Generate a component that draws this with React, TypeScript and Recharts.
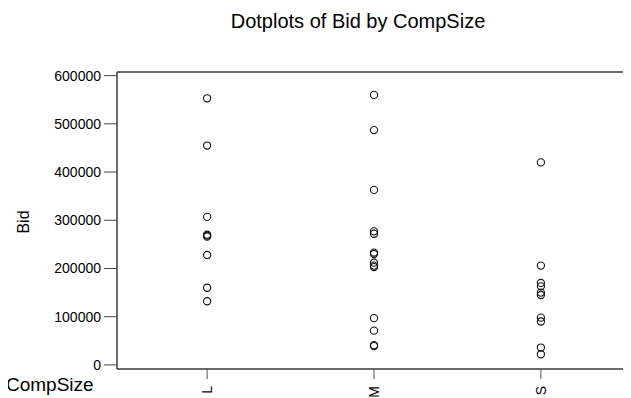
import {ScatterChart, Scatter, XAxis, YAxis, ReferenceLine} from "recharts";

const categories = ["L", "M", "S"];
const bidL = [553000, 455000, 307000, 270000, 268000, 266000, 228000, 160000, 132000];
const bidM = [560000, 487000, 363000, 277000, 272000, 233000, 230000, 212000, 206000, 203000, 97000, 71000, 41000, 39000];
const bidS = [420000, 206000, 170000, 163000, 150000, 145000, 98000, 90000, 36000, 22000];
const yTicks = [0, 100000, 200000, 300000, 400000, 500000, 600000];

const yTop = 607500;
const toPoints = (vals: number[], i: number) => vals.map(v => ({x: i, bid: v}));

const axisColor = "#3a3a3a";
const font = "'Liberation Sans', Arial, sans-serif";

interface DotProps {
    cx?: number;
    cy?: number;
}

const OpenDot = ({cx, cy}: DotProps) => {
    if (cx === undefined || cy === undefined) return null;
    return <circle cx={cx} cy={cy} r={3.6} fill="none" stroke="#111" strokeWidth={1.1}/>;
};

interface TickProps {
    x?: number;
    y?: number;
    payload?: { value: number };
}

// rotated category labels under the x axis
const CatTick = ({x, y, payload}: TickProps) => {
    if (x === undefined || y === undefined || !payload) return null;
    return (
        <text
            x={x}
            y={y}
            transform={`rotate(-90, ${x}, ${y})`}
            textAnchor="end"
            dy="0.36em"
            fontSize={14}
            fontFamily={font}
            fill="#000"
        >
            {categories[payload.value]}
        </text>
    );
};

const App = () => {
    return (
        <div style={{position: "relative", width: 623, height: 390, fontFamily: font}}>
            <div style={{
                position: "absolute", left: 0, width: 700, top: 1, textAlign: "center",
                fontSize: 20, color: "#000", lineHeight: "24px"
            }}>
                Dotplots of Bid by CompSize
            </div>
            <div style={{
                position: "absolute", left: 16, top: 214, fontSize: 16, color: "#000",
                transform: "translate(-50%, -50%) rotate(-90deg)", whiteSpace: "nowrap"
            }}>
                Bid
            </div>
            <div style={{position: "absolute", left: -2, top: 367, fontSize: 19, color: "#000", lineHeight: "20px"}}>
                CompSize
            </div>
            <ScatterChart width={623} height={390} margin={{top: 64, right: 0, bottom: 0, left: 0}}>
                <XAxis
                    type="number"
                    dataKey="x"
                    domain={[-0.54, 2.54]}
                    ticks={[0, 1, 2]}
                    allowDataOverflow
                    height={29}
                    tickSize={10}
                    tickMargin={7}
                    tick={<CatTick/>}
                    tickLine={{stroke: "#555"}}
                    axisLine={{stroke: axisColor, strokeWidth: 1.5}}
                />
                <YAxis
                    type="number"
                    dataKey="bid"
                    domain={[-8500, yTop]}
                    ticks={yTicks}
                    allowDataOverflow
                    width={109}
                    tickSize={13}
                    tickMargin={3}
                    tick={{fontSize: 14, fill: "#000", fontFamily: font}}
                    tickLine={{stroke: "#444"}}
                    axisLine={{stroke: axisColor, strokeWidth: 1.5}}
                />
                <ReferenceLine y={yTop} stroke={axisColor} strokeWidth={1.5} ifOverflow="visible"/>
                {[bidL, bidM, bidS].map((vals, i) => (
                    <Scatter
                        key={categories[i]}
                        data={toPoints(vals, i)}
                        shape={<OpenDot/>}
                        isAnimationActive={false}
                    />
                ))}
            </ScatterChart>
        </div>
    );
};

export default App;
